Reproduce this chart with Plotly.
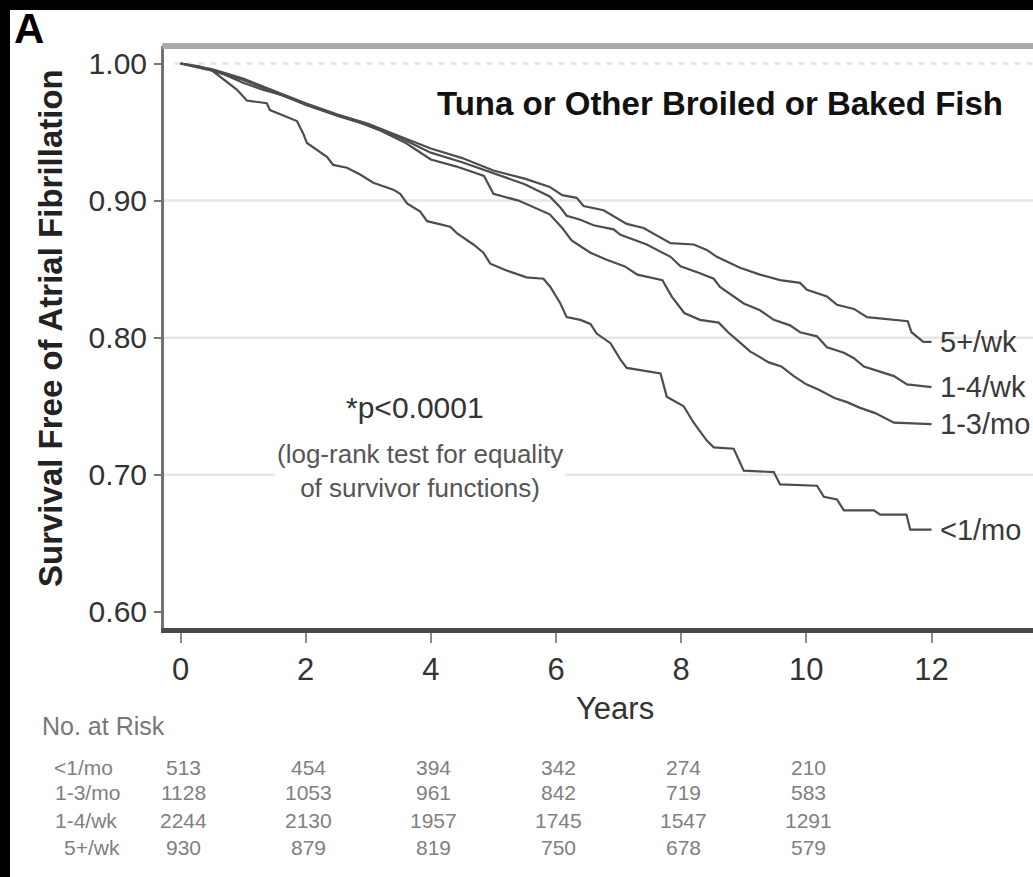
import plotly.graph_objects as go

# ---------------- data ----------------
t_lt1mo = [0, 0.5, 0.9, 1.06, 1.38, 1.43, 1.86, 1.96, 2.02, 2.34, 2.44, 2.66, 2.87, 3.08, 3.4, 3.51,
           3.62, 3.83, 3.94, 4.31, 4.42, 4.68, 4.84, 4.95, 5.21, 5.53, 5.8, 5.91, 6.07, 6.17, 6.39,
           6.55, 6.65, 6.87, 7.03, 7.13, 7.67, 7.77, 8.04, 8.2, 8.41, 8.52, 8.84, 9.0, 9.48, 9.58,
           10.17, 10.28, 10.49, 10.6, 11.08, 11.18, 11.6, 11.66, 12.0]
s_lt1mo = [1.0, 0.995, 0.981, 0.973, 0.971, 0.966, 0.958, 0.949, 0.942, 0.932, 0.926, 0.924, 0.919,
           0.913, 0.908, 0.905, 0.898, 0.892, 0.885, 0.881, 0.876, 0.868, 0.862, 0.854, 0.849, 0.844,
           0.843, 0.837, 0.825, 0.815, 0.813, 0.810, 0.803, 0.796, 0.784, 0.778, 0.774, 0.757, 0.750,
           0.738, 0.725, 0.720, 0.719, 0.703, 0.702, 0.693, 0.692, 0.684, 0.682, 0.674, 0.674, 0.671,
           0.671, 0.660, 0.660]

t_1_3mo = [0, 0.3, 0.7, 1.0, 1.3, 1.7, 2.0, 2.4, 2.8, 3.2, 3.6, 4.0, 4.4, 4.85, 5.0, 5.4, 5.9, 6.1,
           6.25, 6.55, 6.8, 7.1, 7.3, 7.7, 7.85, 8.05, 8.3, 8.6, 8.75, 8.95, 9.1, 9.4, 9.6, 9.8, 10.0,
           10.2, 10.45, 10.65, 10.85, 11.1, 11.4, 12.0]
s_1_3mo = [1.0, 0.998, 0.992, 0.986, 0.981, 0.976, 0.970, 0.964, 0.958, 0.951, 0.942, 0.930, 0.925,
           0.918, 0.905, 0.900, 0.890, 0.880, 0.871, 0.862, 0.857, 0.852, 0.846, 0.842, 0.830, 0.818,
           0.813, 0.811, 0.804, 0.796, 0.790, 0.782, 0.779, 0.772, 0.766, 0.762, 0.756, 0.753, 0.749,
           0.745, 0.738, 0.737]

t_1_4wk = [0, 0.5, 1.0, 1.5, 2.0, 2.5, 3.0, 3.5, 4.0, 4.5, 5.0, 5.5, 5.9, 6.07, 6.17, 6.39, 6.6,
           6.92, 7.03, 7.29, 7.45, 7.83, 7.99, 8.3, 8.52, 8.62, 9.0, 9.26, 9.48, 9.74, 9.9, 10.17,
           10.33, 10.6, 10.76, 10.92, 11.18, 11.4, 11.61, 12.0]
s_1_4wk = [1.0, 0.995, 0.988, 0.979, 0.970, 0.962, 0.955, 0.946, 0.935, 0.928, 0.920, 0.912, 0.903,
           0.895, 0.889, 0.886, 0.882, 0.879, 0.875, 0.871, 0.868, 0.859, 0.852, 0.847, 0.843, 0.837,
           0.825, 0.820, 0.813, 0.809, 0.804, 0.801, 0.793, 0.789, 0.785, 0.779, 0.775, 0.772, 0.766,
           0.764]

t_5wk = [0, 0.5, 1.0, 1.5, 2.0, 2.5, 3.0, 3.5, 4.0, 4.5, 5.0, 5.5, 5.9, 6.1, 6.33, 6.44, 6.76, 7.13,
         7.4, 7.83, 8.2, 8.41, 8.57, 8.94, 9.26, 9.58, 9.9, 10.01, 10.33, 10.49, 10.76, 10.97, 11.2,
         11.62, 11.68, 11.87, 12.0]
s_5wk = [1.0, 0.996, 0.989, 0.980, 0.971, 0.963, 0.956, 0.947, 0.938, 0.931, 0.922, 0.916, 0.910,
         0.904, 0.902, 0.896, 0.893, 0.883, 0.880, 0.869, 0.868, 0.864, 0.859, 0.851, 0.846, 0.842,
         0.840, 0.835, 0.830, 0.824, 0.821, 0.815, 0.814, 0.812, 0.804, 0.797, 0.797]

group_labels = ["<1/mo", "1-3/mo", "1-4/wk", "5+/wk"]
curve_times = [t_lt1mo, t_1_3mo, t_1_4wk, t_5wk]
curve_surv = [s_lt1mo, s_1_3mo, s_1_4wk, s_5wk]

x_ticks = [0, 2, 4, 6, 8, 10, 12]
y_ticks = [0.60, 0.70, 0.80, 0.90, 1.00]
y_tick_text = ["0.60", "0.70", "0.80", "0.90", "1.00"]
grid_solid = [0.70, 0.80, 0.90]
grid_dashed = [1.00]

risk_times = [0, 2, 4, 6, 8, 10]
risk_lt1mo = [513, 454, 394, 342, 274, 210]
risk_1_3mo = [1128, 1053, 961, 842, 719, 583]
risk_1_4wk = [2244, 2130, 1957, 1745, 1547, 1291]
risk_5wk = [930, 879, 819, 750, 678, 579]
risk_rows = [risk_lt1mo, risk_1_3mo, risk_1_4wk, risk_5wk]

title_text = "Tuna or Other Broiled or Baked Fish"
y_title = "Survival Free of Atrial Fibrillation"
x_title = "Years"
p_text = "*p<0.0001"
test_text = "(log-rank test for equality<br>of survivor functions)"

# ---------------- layout geometry ----------------
W, H = 1033, 877
L, R, T, B = 164, 0, 46, 249
FONT = "Liberation Sans, Arial, sans-serif"


def px(xp):
    return (xp - L) / (W - L - R)


def py(yp):
    return (H - B - yp) / (H - T - B)


LINE = "#4d4d4d"
fig = go.Figure()
for tt, ss, name in zip(curve_times, curve_surv, group_labels):
    fig.add_trace(go.Scatter(x=tt, y=ss, mode="lines", name=name,
                             line=dict(color=LINE, width=2.2), showlegend=False,
                             hoverinfo="skip"))

shapes = []
for g in grid_solid:
    shapes.append(dict(type="line", xref="paper", yref="y", x0=0, x1=1, y0=g, y1=g,
                       line=dict(color="#e6e6e6", width=2.5), layer="below"))
for g in grid_dashed:
    shapes.append(dict(type="line", xref="paper", yref="y", x0=0.012, x1=1, y0=g, y1=g,
                       line=dict(color="#e3e3e3", width=2.5, dash="6px,6px"), layer="below"))
# top frame line
shapes.append(dict(type="line", xref="paper", yref="paper", x0=-0.002, x1=1, y0=1, y1=1,
                   line=dict(color="#a9a9a9", width=6)))
# black borders (left & top)
shapes.append(dict(type="rect", xref="paper", yref="paper", x0=px(0), x1=px(10), y0=py(H), y1=py(0),
                   fillcolor="black", line=dict(width=0)))
shapes.append(dict(type="rect", xref="paper", yref="paper", x0=px(0), x1=px(W), y0=py(10), y1=py(0),
                   fillcolor="black", line=dict(width=0)))

ann = []
# series labels
for tt, ss, name in zip(curve_times, curve_surv, group_labels):
    ann.append(dict(x=tt[-1] + 0.11, y=ss[-1], xref="x", yref="y", text=name, showarrow=False,
                    xanchor="left", yanchor="middle",
                    font=dict(family=FONT, size=29, color="#3a3a3a")))
# title
ann.append(dict(x=px(720), y=py(104), xref="paper", yref="paper", text="<b>" + title_text + "</b>",
                showarrow=False, xanchor="center", yanchor="middle",
                font=dict(family=FONT, size=33, color="#111111")))
# y title
ann.append(dict(x=px(50), y=py(328), xref="paper", yref="paper", text="<b>" + y_title + "</b>",
                showarrow=False, textangle=-90, xanchor="center", yanchor="middle",
                font=dict(family=FONT, size=33, color="#222222")))
# x title
ann.append(dict(x=px(615), y=py(708), xref="paper", yref="paper", text=x_title,
                showarrow=False, xanchor="center", yanchor="middle",
                font=dict(family=FONT, size=31, color="#333333")))
# panel letter
ann.append(dict(x=px(29), y=py(28), xref="paper", yref="paper", text="<b>A</b>",
                showarrow=False, xanchor="center", yanchor="middle",
                font=dict(family=FONT, size=42, color="#000000")))
# p-value
ann.append(dict(x=px(415), y=py(407), xref="paper", yref="paper", text=p_text,
                showarrow=False, xanchor="center", yanchor="middle",
                font=dict(family=FONT, size=30, color="#333333")))
ann.append(dict(x=px(420), y=py(471), xref="paper", yref="paper", text=test_text,
                showarrow=False, xanchor="center", yanchor="middle", bgcolor="white",
                borderpad=2,
                font=dict(family=FONT, size=26, color="#555555")))
# risk table
ann.append(dict(x=px(40), y=py(726), xref="paper", yref="paper", text="No. at Risk",
                showarrow=False, xanchor="left", yanchor="middle",
                font=dict(family=FONT, size=25, color="#777777")))
row_y = [767, 793, 820, 847]
row_x = [52, 53, 53, 62]
for lab, vals, ry, rx in zip(group_labels, risk_rows, row_y, row_x):
    ann.append(dict(x=px(rx), y=py(ry), xref="paper", yref="paper", text=lab,
                    showarrow=False, xanchor="left", yanchor="middle",
                    font=dict(family=FONT, size=21, color="#808080")))
    for t, v in zip(risk_times, vals):
        ann.append(dict(x=t + 0.04, y=py(ry), xref="x", yref="paper", text=str(v),
                        showarrow=False, xanchor="center", yanchor="middle",
                        font=dict(family=FONT, size=21, color="#808080")))

x0 = -(180.5 - L) / 62.583
x1 = (W - R - 180.5) / 62.583
y1 = 1 + (63.5 - T) / 1371.0
y0 = 1 - (H - B - 63.5) / 1371.0

fig.update_layout(
    width=W, height=H,
    margin=dict(l=L, r=R, t=T, b=B, pad=0),
    paper_bgcolor="white", plot_bgcolor="white",
    shapes=shapes, annotations=ann,
    xaxis=dict(range=[x0, x1], tickvals=x_ticks, ticktext=[str(v) for v in x_ticks],
               showgrid=False, zeroline=False, showline=True, linecolor="#4a4a4a", linewidth=5,
               ticks="outside", ticklen=10, tickwidth=2, tickcolor="#8a8a8a",
               ticklabelstandoff=0,
               tickfont=dict(family=FONT, size=31, color="#333333")),
    yaxis=dict(range=[y0, y1], tickvals=y_ticks, ticktext=y_tick_text,
               showgrid=False, zeroline=False, showline=True, linecolor="#727272", linewidth=3,
               ticks="outside", ticklen=7, tickwidth=2, tickcolor="#777777",
               ticklabelstandoff=1,
               tickfont=dict(family=FONT, size=30, color="#333333")),
)

fig.write_html("out.html", config={"displayModeBar": False},
               post_script="document.body.style.margin='0px';document.body.style.overflow='hidden';")
